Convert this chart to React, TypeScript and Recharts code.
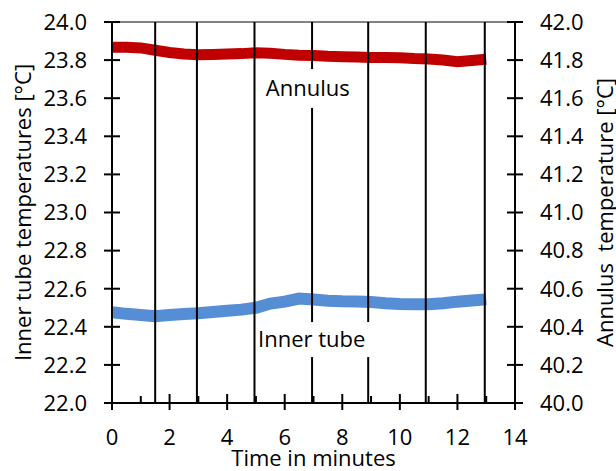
import { LineChart, Line, XAxis, YAxis, ReferenceLine, ReferenceDot } from "recharts";

const FONT = "'Open Sans', sans-serif";

// time in minutes
const time = [0, 0.5, 1, 1.5, 2, 2.5, 3, 3.5, 4, 4.5, 5, 5.5, 6, 6.5, 7, 7.5, 8, 8.5, 9, 9.5, 10, 10.5, 11, 11.5, 12, 12.5, 13];
// annulus temperature, right axis
const annulus = [41.868, 41.868, 41.864, 41.852, 41.84, 41.832, 41.828, 41.83, 41.832, 41.834, 41.838, 41.836, 41.83, 41.826, 41.824, 41.82, 41.818, 41.816, 41.814, 41.813, 41.812, 41.808, 41.806, 41.8, 41.792, 41.798, 41.804];
// inner tube temperature, left axis
const innerTube = [22.476, 22.468, 22.462, 22.455, 22.462, 22.467, 22.471, 22.478, 22.484, 22.49, 22.5, 22.522, 22.532, 22.548, 22.543, 22.537, 22.534, 22.533, 22.53, 22.524, 22.52, 22.518, 22.518, 22.524, 22.532, 22.538, 22.544];

const xTicks = [0, 1, 2, 3, 4, 5, 6, 7, 8, 9, 10, 11, 12, 13, 14];
const leftTicks = [22.0, 22.2, 22.4, 22.6, 22.8, 23.0, 23.2, 23.4, 23.6, 23.8, 24.0];
const rightTicks = [40.0, 40.2, 40.4, 40.6, 40.8, 41.0, 41.2, 41.4, 41.6, 41.8, 42.0];

// vertical marker lines (minutes)
const dividers = [1.5, 2.95, 4.95, 6.95, 8.9, 10.9, 12.95];

const labels = [
  { text: "Annulus", x: 6.8, y: 23.651, x1: 5.06, x2: 8.6, y1: 23.549, y2: 23.753 },
  { text: "Inner tube", x: 6.94, y: 22.333, x1: 5.0, x2: 8.95, y1: 22.241, y2: 22.425 },
];

const data = time.map((t, i) => ({ t, annulus: annulus[i], inner: innerTube[i] }));

// split each divider around the label boxes
const segmentsFor = (d: number) => {
  const gaps = labels.filter((l) => d >= l.x1 && d <= l.x2).sort((a, b) => b.y2 - a.y2);
  const segs: [number, number][] = [];
  let top = 24;
  gaps.forEach((g) => {
    segs.push([top, g.y2]);
    top = g.y1;
  });
  segs.push([top, 22]);
  return segs;
};

const LeftTick = (p: any) => (
  <g>
    <line x1={p.x - 8} x2={p.x + 8} y1={p.y} y2={p.y} stroke="#000" strokeWidth={2} />
    <text x={p.x - 25} y={p.y} dy="0.357em" textAnchor="end" fontSize={22} fontFamily={FONT} fill="#000">
      {Number(p.payload.value).toFixed(1)}
    </text>
  </g>
);

const RightTick = (p: any) => (
  <g>
    <line x1={p.x - 8} x2={p.x + 8} y1={p.y} y2={p.y} stroke="#000" strokeWidth={2} />
    <text x={p.x + 25} y={p.y} dy="0.357em" textAnchor="start" fontSize={22} fontFamily={FONT} fill="#000">
      {Number(p.payload.value).toFixed(1)}
    </text>
  </g>
);

const BottomTick = (p: any) => {
  const v = p.payload.value;
  const major = v % 2 === 0;
  return (
    <g>
      <line x1={p.x} x2={p.x} y1={p.y - (major ? 9 : 7)} y2={p.y + (major ? 7 : 0)} stroke="#000" strokeWidth={2} />
      {major && (
        <text x={p.x} y={p.y + 42} textAnchor="middle" fontSize={22} fontFamily={FONT} fill="#000">
          {v}
        </text>
      )}
    </g>
  );
};

const axisTitle = (text: string, dx: number, rotate: boolean) => (props: any) => {
  const vb = props.viewBox;
  if (rotate) {
    const cx = vb.x + dx;
    const cy = vb.y + vb.height / 2;
    return (
      <text x={cx} y={cy} transform={`rotate(-90 ${cx} ${cy})`} textAnchor="middle" fontSize={22} fontFamily={FONT} fill="#000" style={{ whiteSpace: "pre" }}>
        {text}
      </text>
    );
  }
  return (
    <text x={vb.x + vb.width / 2} y={vb.y + dx} textAnchor="middle" fontSize={22} fontFamily={FONT} fill="#000">
      {text}
    </text>
  );
};

export default function App() {
  return (
    <div style={{ position: "absolute", left: 0, top: 0, width: 616, height: 471, background: "#fff" }}>
      <LineChart width={616} height={471} data={data} margin={{ top: 22, right: 0, bottom: 0, left: 0 }}>
        <XAxis
          dataKey="t"
          type="number"
          domain={[0, 14]}
          ticks={xTicks}
          interval={0}
          height={68}
          tickSize={0}
          tickMargin={0}
          tickLine={false}
          axisLine={{ stroke: "#000", strokeWidth: 2 }}
          tick={<BottomTick />}
          label={{ content: axisTitle("Time in minutes", 63, false) }}
        />
        <YAxis
          yAxisId="left"
          type="number"
          domain={[22, 24]}
          ticks={leftTicks}
          interval={0}
          width={112}
          tickSize={0}
          tickMargin={0}
          tickLine={false}
          axisLine={{ stroke: "#000", strokeWidth: 2 }}
          tick={<LeftTick />}
          label={{ content: axisTitle("Inner tube temperatures [°C]", 31, true) }}
        />
        <YAxis
          yAxisId="right"
          orientation="right"
          type="number"
          domain={[40, 42]}
          ticks={rightTicks}
          interval={0}
          width={101}
          tickSize={0}
          tickMargin={0}
          tickLine={false}
          axisLine={{ stroke: "#000", strokeWidth: 2 }}
          tick={<RightTick />}
          label={{ content: axisTitle("Annulus  temperature [°C]", 98, true) }}
        />
        <Line
          yAxisId="right"
          dataKey="annulus"
          stroke="#C00000"
          strokeWidth={11}
          strokeLinecap="butt"
          dot={false}
          isAnimationActive={false}
        />
        <Line
          yAxisId="left"
          dataKey="inner"
          stroke="#558ED5"
          strokeWidth={12}
          strokeLinecap="butt"
          dot={false}
          isAnimationActive={false}
        />
        <ReferenceLine yAxisId="left" y={24} stroke="#595959" strokeWidth={1.5} />
        {dividers.flatMap((d) =>
          segmentsFor(d).map(([a, b], k) => (
            <ReferenceLine
              key={`${d}-${k}`}
              yAxisId="left"
              segment={[{ x: d, y: a }, { x: d, y: b }]}
              stroke="#000"
              strokeWidth={2}
            />
          ))
        )}
        {labels.map((l) => (
          <ReferenceDot
            key={l.text}
            yAxisId="left"
            x={l.x}
            y={l.y}
            r={0}
            fill="none"
            stroke="none"
            label={{ value: l.text, position: "center", fontSize: 22, fontFamily: FONT, fill: "#000" }}
          />
        ))}
      </LineChart>
    </div>
  );
}
